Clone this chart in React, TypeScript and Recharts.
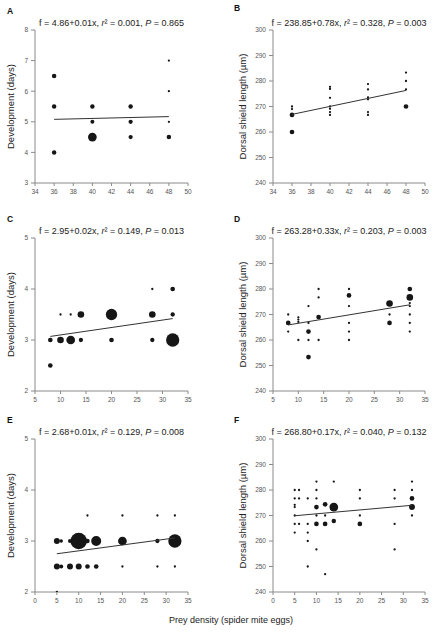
import React from 'react';
import { ScatterChart, Scatter, XAxis, YAxis, ZAxis } from 'recharts';

const FONT = '"Liberation Sans", Arial, Helvetica, sans-serif';

// ---------- data: [x, y, n] (n = relative number of overlapping observations) ----------
const pointsA = [
  [36, 6.5, 5], [36, 5.5, 5], [36, 4.0, 5],
  [40, 5.5, 5], [40, 5.0, 4], [40, 4.5, 19],
  [44, 5.5, 5], [44, 5.0, 4.5], [44, 4.5, 4.5],
  [48, 7.0, 1.3], [48, 6.0, 1.3], [48, 5.0, 1.3], [48, 4.5, 5],
];
const lineA = [[36, 5.08], [48, 5.17]];

const pointsB = [
  [36, 270, 1.3], [36, 269, 1.3], [36, 266.7, 5.5], [36, 260, 5.5],
  [40, 277.7, 1.3], [40, 276.9, 1.3], [40, 273.4, 1.3], [40, 270, 1.3], [40, 269.1, 1.3], [40, 267.8, 1.3], [40, 266.7, 1.3],
  [44, 278.8, 1.3], [44, 276.7, 1.3], [44, 273.6, 1.3], [44, 272.8, 1.3], [44, 267.8, 1.3], [44, 266.7, 1.3],
  [48, 283.3, 1.3], [48, 280, 1.3], [48, 276.7, 1.3], [48, 270, 5.5],
];
const lineB = [[36, 266.9], [48, 276.3]];

const pointsC = [
  [8, 3, 5.4], [8, 2.5, 5.4],
  [10, 3.5, 1.3], [10, 3, 11],
  [12, 3.5, 1.3], [12, 3, 19],
  [14, 3.5, 11], [14, 3, 4.7],
  [20, 3.5, 32], [20, 3, 5.4],
  [28, 4, 1.3], [28, 3.5, 11], [28, 3, 4.7],
  [32, 4, 5.4], [32, 3.5, 4.7], [32, 3, 44],
];
const lineC = [[8, 3.07], [32, 3.42]];

const pointsD = [
  [8, 270, 1.3], [8, 266.7, 5.5], [8, 263.3, 1.3],
  [10, 268.9, 1.3], [10, 268, 1.3], [10, 267.1, 1.3], [10, 260, 1.3],
  [12, 273.3, 1.3], [12, 266.7, 1.3], [12, 263.3, 5.5], [12, 260, 1.3], [12, 253.3, 5.5],
  [14, 280, 1.3], [14, 276.7, 1.3], [14, 269, 5.5], [14, 260, 1.3],
  [20, 280, 1.3], [20, 277.5, 5.5], [20, 273.3, 1.3], [20, 266.7, 1.3], [20, 263.3, 1.3], [20, 260, 1.3],
  [28, 274.3, 11], [28, 270, 1.3], [28, 266.7, 5.5],
  [32, 280, 5.5], [32, 276.7, 11], [32, 274.5, 1.3], [32, 273.3, 1.3], [32, 270, 1.3], [32, 266.7, 1.3], [32, 263.3, 1.3],
];
const lineD = [[8, 265.9], [32, 273.8]];

const pointsE = [
  [5, 3, 9], [5, 2.5, 9], [5, 2, 1.3],
  [6, 3, 3], [6, 2.5, 4],
  [8, 3, 4], [8, 2.5, 9],
  [10, 3, 69], [10, 2.5, 9],
  [12, 3.5, 1.3], [12, 3, 5], [12, 2.5, 5.4],
  [14, 3, 25], [14, 2.5, 5.4],
  [20, 3.5, 1.3], [20, 3, 19], [20, 2.5, 1.3],
  [28, 3.5, 1.3], [28, 3, 4.7], [28, 2.5, 1.3],
  [32, 3.5, 1.3], [32, 3, 44], [32, 2.5, 1.3],
];
const lineE = [[5, 2.75], [32, 3.06]];

const pointsF = [
  [5, 280, 1.3], [5, 276.7, 1.3], [5, 274.2, 1.3], [5, 273.3, 1.3], [5, 270, 1.3], [5, 266.7, 1.3], [5, 263.3, 1.3],
  [6, 280, 1.3], [6, 276.7, 1.3], [6, 266.7, 1.3],
  [8, 276.7, 1.3], [8, 266.7, 1.3], [8, 263.3, 1.3], [8, 260, 1.3], [8, 250, 1.3],
  [10, 283.3, 1.3], [10, 280, 1.3], [10, 276.7, 1.3], [10, 273.3, 5.5], [10, 270, 1.3], [10, 266.7, 5.5], [10, 256.7, 1.3],
  [12, 274.4, 5.5], [12, 270, 1.3], [12, 266.7, 5.5], [12, 247, 1.3],
  [14, 283.3, 1.3], [14, 273.3, 19], [14, 267.8, 5],
  [20, 280, 1.3], [20, 276.7, 1.3], [20, 270, 1.3], [20, 266.7, 5.5],
  [28, 280, 1.3], [28, 276.7, 1.3], [28, 266.7, 1.3], [28, 256.7, 1.3],
  [32, 283.3, 1.3], [32, 280, 1.3], [32, 276.7, 5.5], [32, 273.3, 9], [32, 270, 1.3],
];
const lineF = [[5, 269.9], [32, 274.0]];

// ---------- tick labels / titles ----------
const xTicksAB = [34, 36, 38, 40, 42, 44, 46, 48, 50];
const xTicksCD = [5, 10, 15, 20, 25, 30, 35];
const xTicksEF = [0, 5, 10, 15, 20, 25, 30, 35];
const yTicksDev1 = [3, 4, 5, 6, 7, 8];
const yTicksDev2 = [2, 3, 4, 5];
const yTicksShield = [240, 250, 260, 270, 280, 290, 300];

const titles = [
  ['4.86+0.01x', '0.001', '0.865'],
  ['238.85+0.78x', '0.328', '0.003'],
  ['2.95+0.02x', '0.149', '0.013'],
  ['263.28+0.33x', '0.203', '0.003'],
  ['2.68+0.01x', '0.129', '0.008'],
  ['268.80+0.17x', '0.040', '0.132'],
];
const letters = ['A', 'B', 'C', 'D', 'E', 'F'];
const yLabelDev = 'Development (days)';
const yLabelShield = 'Dorsal shield length (\u00b5m)';
const xLabel = 'Prey density (spider mite eggs)';

const toPts = (a: number[][]) => a.map(([x, y, n]) => ({ x, y, n }));
const toLine = (a: number[][]) => a.map(([x, y]) => ({ x, y, n: 0 }));

const CHART_W = 219;
const CHART_H = 200;
const TOP_M = 30;
const X_H = 17;
const PLOT_H = CHART_H - TOP_M - X_H;

type PanelCfg = {
  left: number;
  top: number;
  yW: number;
  rM: number;
  xDomain: [number, number];
  xTicks: number[];
  yDomain: [number, number];
  yTicks: number[];
  points: number[][];
  line: number[][];
};

const LEFT = { left: 0, yW: 35, rM: 31 };
const RIGHT = { left: 219, yW: 54, rM: 13 };
const ROW_TOPS = [0, 208, 409];

const panels: PanelCfg[] = [
  { ...LEFT, top: ROW_TOPS[0], xDomain: [34, 50], xTicks: xTicksAB, yDomain: [3, 8], yTicks: yTicksDev1, points: pointsA, line: lineA },
  { ...RIGHT, top: ROW_TOPS[0], xDomain: [34, 50], xTicks: xTicksAB, yDomain: [240, 300], yTicks: yTicksShield, points: pointsB, line: lineB },
  { ...LEFT, top: ROW_TOPS[1], xDomain: [5, 35], xTicks: xTicksCD, yDomain: [2, 5], yTicks: yTicksDev2, points: pointsC, line: lineC },
  { ...RIGHT, top: ROW_TOPS[1], xDomain: [5, 35], xTicks: xTicksCD, yDomain: [240, 300], yTicks: yTicksShield, points: pointsD, line: lineD },
  { ...LEFT, top: ROW_TOPS[2], xDomain: [0, 35], xTicks: xTicksEF, yDomain: [2, 5], yTicks: yTicksDev2, points: pointsE, line: lineE },
  { ...RIGHT, top: ROW_TOPS[2], xDomain: [0, 35], xTicks: xTicksEF, yDomain: [240, 300], yTicks: yTicksShield, points: pointsF, line: lineF },
];

const AXIS = '#8a8a8a';
const TICK = { fill: '#555', fontSize: 6.5, fontFamily: FONT };

function Panel({ cfg }: { cfg: PanelCfg }) {
  return (
    <div style={{ position: 'absolute', left: cfg.left, top: cfg.top }}>
      <ScatterChart
        width={CHART_W}
        height={CHART_H}
        margin={{ top: TOP_M, right: cfg.rM, bottom: 0, left: 0 }}
      >
        <XAxis
          type="number"
          dataKey="x"
          domain={cfg.xDomain}
          ticks={cfg.xTicks}
          interval={0}
          height={X_H}
          tickSize={3}
          tickMargin={3}
          stroke={AXIS}
          tick={TICK}
          allowDataOverflow
        />
        <YAxis
          type="number"
          dataKey="y"
          domain={cfg.yDomain}
          ticks={cfg.yTicks}
          interval={0}
          width={cfg.yW}
          tickSize={4}
          tickMargin={3}
          stroke={AXIS}
          tick={TICK}
          allowDataOverflow
        />
        <ZAxis type="number" dataKey="n" domain={[0, 100]} range={[0, 314]} />
        <Scatter data={toPts(cfg.points)} fill="#161616" isAnimationActive={false} />
        <Scatter
          data={toLine(cfg.line)}
          line={{ stroke: '#333', strokeWidth: 1 }}
          shape={() => <g />}
          isAnimationActive={false}
        />
      </ScatterChart>
    </div>
  );
}

function Title({ cx, y, parts }: { cx: number; y: number; parts: string[] }) {
  return (
    <text x={cx} y={y} textAnchor="middle" fontSize={9} fill="#222" fontFamily={FONT}>
      {`f = ${parts[0]}, `}
      <tspan fontStyle="italic">r</tspan>
      {'\u00b2 = ' + parts[1] + ', '}
      <tspan fontStyle="italic">P</tspan>
      {' = ' + parts[2]}
    </text>
  );
}

export default function App() {
  return (
    <div style={{ position: 'absolute', left: 0, top: 0, width: 438, height: 638, background: '#fff', fontFamily: FONT }}>
      {panels.map((p, i) => (
        <Panel key={i} cfg={p} />
      ))}
      <svg
        width={438}
        height={638}
        style={{ position: 'absolute', left: 0, top: 0, pointerEvents: 'none' }}
      >
        {panels.map((p, i) => {
          const plotL = p.left + p.yW;
          const plotR = p.left + CHART_W - p.rM;
          const plotT = p.top + TOP_M;
          const cx = (plotL + plotR) / 2;
          const cy = plotT + PLOT_H / 2;
          const isLeft = i % 2 === 0;
          const labX = isLeft ? 10 : 242;
          const letX = isLeft ? 7 : 234;
          const letY = i === 1 ? plotT - 19 : plotT - 16.5;
          return (
            <g key={i}>
              <text x={letX} y={letY} fontSize={8.5} fontWeight="bold" fill="#111" fontFamily={FONT}>
                {letters[i]}
              </text>
              <Title cx={cx} y={plotT - 4} parts={titles[i]} />
              <text
                x={labX}
                y={cy}
                transform={`rotate(-90 ${labX} ${cy})`}
                textAnchor="middle"
                dominantBaseline="central"
                fontSize={9.5}
                fill="#222"
                fontFamily={FONT}
              >
                {isLeft ? yLabelDev : yLabelShield}
              </text>
            </g>
          );
        })}
        <text x={231} y={623} textAnchor="middle" fontSize={9} fill="#222" fontFamily={FONT}>
          {xLabel}
        </text>
      </svg>
    </div>
  );
}
